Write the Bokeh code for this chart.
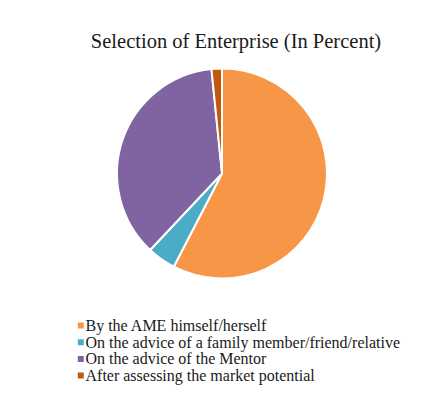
import numpy as np
from bokeh.plotting import figure
from bokeh.models import Range1d, ColumnDataSource
from bokeh.core.properties import value
from bokeh.embed import file_html
from bokeh.resources import INLINE

categories = ["By the AME himself/herself",
              "On the advice of a family member/friend/relative",
              "On the advice of the Mentor",
              "After assessing the market potential"]
percent = [57.6, 4.4, 36.4, 1.6]
colors = ["#F79646", "#4BACC6", "#8064A2", "#C0580F"]
title = "Selection of Enterprise (In Percent)"

W, H = 436, 396
p = figure(width=W, height=H, x_range=Range1d(0, W), y_range=Range1d(0, H),
           output_backend="svg", toolbar_location=None, min_border=0)
p.axis.visible = False
p.grid.visible = False
p.outline_line_color = None
p.background_fill_color = "white"
p.border_fill_color = "white"

frac = np.array(percent) / np.sum(percent)
cum = np.cumsum(frac)
prev = np.concatenate([[0], cum[:-1]])
start = np.pi / 2 - 2 * np.pi * prev
end = np.pi / 2 - 2 * np.pi * cum

cx, cy, r = 221.5, 223, 105
src = ColumnDataSource(dict(start=start, end=end, color=colors, cat=categories))
p.wedge(x=cx, y=cy, radius=r, start_angle="start", end_angle="end",
        direction="clock", fill_color="color", line_color="white", line_width=2,
        source=src)

serif = value("'Liberation Serif', 'Times New Roman', serif")

# title
p.text(x=[235.5], y=[355.5], text=[title], text_font=serif,
       text_font_size="20.5px", text_align="center", text_baseline="alphabetic",
       text_color="#1a1a1a")

# legend
ly = 71 - 16.7 * np.arange(len(categories))
lsrc = ColumnDataSource(dict(x=[80.3] * len(categories), tx=[85] * len(categories),
                             y=ly, color=colors, cat=categories))
p.rect(x="x", y="y", width=6, height=6, fill_color="color", line_color=None, source=lsrc)
p.text(x="tx", y="y", text="cat", text_font=serif,
       text_font_size="16px", text_align="left", text_baseline="middle",
       text_color="#1a1a1a", source=lsrc)

open("out.html", "w").write(file_html(p, INLINE))
